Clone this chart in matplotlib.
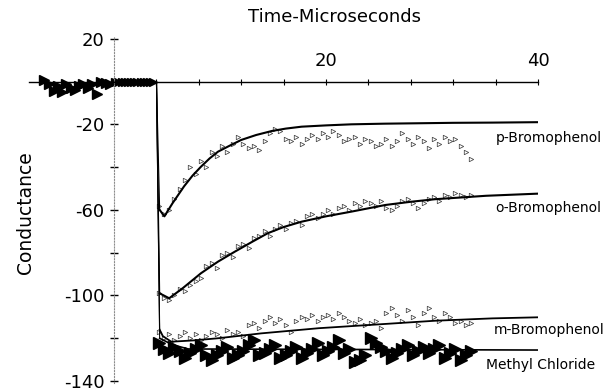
import matplotlib
matplotlib.use("Agg")
import matplotlib.pyplot as plt

# ---------------- data ----------------
# fitted curves: time (microseconds), conductance
p_curve_t = [4.0, 4.3, 4.75, 5.5, 6.6, 7.4, 8.2, 9.0, 9.8, 10.9, 12.0, 13.4, 14.9, 16.2, 17.7, 20.0, 22.4, 25.5, 28.8, 32.0, 35.7, 40.0]
p_curve_y = [0, -60, -63, -57, -49, -44, -39.8, -36, -32.8, -30, -27.3, -25, -23.1, -22, -21.1, -20.5, -20.0, -19.7, -19.5, -19.3, -19.2, -19.0]

o_curve_t = [4.0, 4.3, 5.2, 6.5, 8.2, 9.8, 11.4, 13.0, 14.5, 16.0, 17.7, 20.0, 22.4, 25.6, 28.0, 30.3, 35.1, 40.0]
o_curve_y = [0, -99, -101.3, -96.5, -89.6, -84.2, -79.5, -75, -70.9, -68, -65.5, -63, -60.8, -57.7, -56.2, -55, -53.4, -52.4]

m_curve_t = [4.0, 4.3, 4.6, 5.4, 7.5, 9.8, 13.9, 19.3, 25.6, 30.3, 35.7, 40.0]
m_curve_y = [0, -116, -119, -121.6, -121, -120, -117.7, -115.3, -113.3, -111.8, -110.7, -110.2]

mc_curve_t = [4.0, 4.3, 5.5, 7.0, 40.0]
mc_curve_y = [0, -120, -123, -125, -125.5]

# sampled data points (time base shared by all four compounds)
sample_t = [4.2, 4.7, 5.2, 5.7, 6.2, 6.7, 7.2, 7.7, 8.2, 8.7, 9.2, 9.7, 10.2, 10.7, 11.2,
            11.7, 12.2, 12.7, 13.2, 13.7, 14.2, 14.7, 15.2, 15.7, 16.2, 16.7, 17.2, 17.7,
            18.2, 18.7, 19.2, 19.7, 20.2, 20.7, 21.2, 21.7, 22.2, 22.7, 23.2, 23.7, 24.2,
            24.7, 25.2, 25.7, 26.2, 26.7, 27.2, 27.7, 28.2, 28.7, 29.2, 29.7, 30.2, 30.7,
            31.2, 31.7, 32.2, 32.7, 33.2, 33.7]

p_points = [-58, -62, -60, -55, -50, -46, -40, -43, -37, -40, -33, -35, -30, -33, -29,
            -26, -29, -31, -30, -32, -28, -24, -22, -23, -27, -28, -26, -29,
            -27, -25, -27, -24, -26, -23, -25, -28, -27, -26, -29, -27, -28,
            -30, -29, -27, -30, -28, -24, -27, -29, -26, -28, -31, -27, -29,
            -26, -28, -27, -30, -33, -36]

o_points = [-99, -101, -102, -100, -97, -98, -95, -93, -92, -86, -85, -87, -81, -80, -82,
            -77, -76, -78, -73, -72, -70, -72, -69, -67, -69, -66, -65, -67,
            -63, -62, -64, -62, -60, -62, -59, -58, -60, -57, -58, -56, -57,
            -58, -56, -59, -60, -58, -56, -55, -57, -59, -57, -55, -54, -56,
            -53, -54, -52, -53, -54, -53]

m_points = [-117, -120, -118, -121, -119, -117, -120, -118, -121, -119, -117, -118, -120, -116, -118,
            -117, -119, -114, -113, -115, -112, -110, -113, -111, -114, -117, -112, -110,
            -111, -109, -112, -110, -109, -111, -108, -110, -112, -113, -111, -114, -113,
            -112, -115, -108, -106, -109, -112, -107, -110, -114, -108, -106, -110, -112,
            -108, -110, -113, -112, -114, -113]

mc_points = [-122, -125, -127, -124, -126, -129, -127, -125, -123, -128, -130, -128, -126, -124, -129,
             -128, -126, -123, -121, -128, -127, -125, -123, -129, -128, -126, -124, -129,
             -127, -125, -122, -128, -126, -124, -121, -127, -125, -131, -130, -128, -120,
             -122, -124, -126, -129, -127, -125, -123, -128, -126, -124, -127, -125, -123,
             -129, -127, -125, -130, -128, -126]

# baseline points before the pulse
base_t = [0.1, 0.4, 0.7, 1.0, 1.3, 1.6, 1.9, 2.2, 2.5, 2.8, 3.1, 3.4, 3.7]
base_y = [0, 0, 0, 0, 0, 0, 0, 0, 0, 0, 0, 0, 0]
pre_t = [-6.6, -6.1, -5.7, -5.3, -4.9, -4.5, -4.1, -3.7, -3.3, -2.9, -2.5, -2.1, -1.6, -1.2, -0.8, -0.4]
pre_y = [0.5, -1, -4.5, -2, -5, -1, -3, -4, -2, -1, -3, -1, -6, 0, -0.5, -1]

series_labels = ["p-Bromophenol", "o-Bromophenol", "m-Bromophenol", "Methyl Chloride"]
label_pos = [(36.0, -26.4), (36.0, -59.1), (35.8, -116.1), (35.1, -132.5)]

x_major = [20, 40]
x_minor = [4, 8, 12, 16, 24, 28, 32, 36]
y_ticks = [20, 0, -20, -40, -60, -80, -100, -120, -140]
y_ticklabels = ["20", "", "-20", "", "-60", "", "-100", "", "-140"]

# ---------------- figure ----------------
W, H = 611, 391
fig = plt.figure(figsize=(W / 100, H / 100), dpi=100)
ax = fig.add_axes([29.3 / W, 1 - 383.2 / H, (538 - 29.3) / W, (383.2 - 36.6) / H])
ax.set_xlim(-8, 40)
ax.set_ylim(-141, 21)

# markers
open_kw = dict(linestyle="none", marker=">", markersize=3.2, markerfacecolor="none",
               markeredgecolor="0.25", markeredgewidth=0.55, zorder=2)
ax.plot(sample_t, p_points, **open_kw)
ax.plot(sample_t, o_points, **open_kw)
ax.plot(sample_t, m_points, **open_kw)
ax.plot(sample_t, mc_points, linestyle="none", marker=">", markersize=8.5,
        color="black", zorder=2)
ax.plot(base_t, base_y, linestyle="none", marker=">", markersize=5.5, color="black", zorder=2)
ax.plot(pre_t, pre_y, linestyle="none", marker=">", markersize=6.5, color="black", zorder=2)

# fitted curves: thin drop at the pulse, then the fitted decay
for t, y, lw in [(p_curve_t, p_curve_y, 1.5), (o_curve_t, o_curve_y, 1.5),
                 (m_curve_t, m_curve_y, 1.3), (mc_curve_t, mc_curve_y, 1.2)]:
    ax.plot(t[:2], y[:2], color="black", linewidth=0.8, zorder=3)
    ax.plot(t[1:], y[1:], color="black", linewidth=lw, zorder=3, solid_joinstyle="round")

# series labels
for lab, (tx, ty) in zip(series_labels, label_pos):
    ax.text(tx, ty, lab, fontsize=10, ha="left", va="center", clip_on=False)

# axes styling
ax.spines["right"].set_visible(False)
ax.spines["bottom"].set_visible(False)
ax.spines["top"].set_position(("data", 0))
ax.spines["top"].set_linewidth(1.0)
ax.spines["left"].set_position(("data", 0))
ax.spines["left"].set_linestyle(":")
ax.spines["left"].set_color("0.55")
ax.spines["left"].set_linewidth(0.8)

ax.xaxis.set_ticks_position("top")
ax.set_xticks(x_major)
ax.set_xticks(x_minor, minor=True)
ax.tick_params(axis="x", which="both", direction="inout", length=4, width=0.8,
               labelsize=13, pad=6)
ax.set_yticks(y_ticks)
ax.set_yticklabels(y_ticklabels)
ax.tick_params(axis="y", direction="inout", length=6, width=1.0, labelsize=13, pad=4)

fig.text(335 / W, 1 - 17.5 / H, "Time-Microseconds", fontsize=13, ha="center", va="center")
fig.text(25 / W, 1 - 213 / H, "Conductance", fontsize=13.5, ha="center", va="center",
         rotation=90)

fig.savefig("out.png", dpi=100)
